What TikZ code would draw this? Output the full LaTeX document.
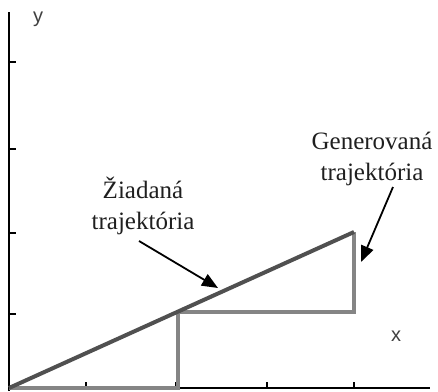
\documentclass[tikz,border=0pt]{standalone}
\usepackage{fontspec}
\setmainfont{Liberation Serif}
\newfontfamily\axfont{Liberation Sans}
\usetikzlibrary{arrows.meta}
\definecolor{desgray}{HTML}{505050}
\definecolor{gengray}{HTML}{858585}
\begin{document}
\begin{tikzpicture}[x=1pt,y=-1pt,
  axisline/.style={line width=2pt,black},
  tickline/.style={line width=1.6pt,black},
  desired/.style={line width=4pt,color=desgray},
  generated/.style={line width=3.5pt,color=gengray,line join=miter},
  ptr/.style={line width=1.8pt,black,-{Triangle[length=16pt,width=13pt]}},
  lbl/.style={font=\fontsize{25}{31}\selectfont,align=center,inner sep=0pt,text=black!88},
  axlbl/.style={font=\axfont\fontsize{20}{22}\selectfont,text=black!75,inner sep=0pt}]
\useasboundingbox (0,0) rectangle (438,391);
% key points
\coordinate (O) at (9,388);
\coordinate (ytop) at (9,12);
\coordinate (ybot) at (9,391);
\coordinate (xend) at (430,388);
\coordinate (A) at (178,388);
\coordinate (B) at (178,312);
\coordinate (C) at (354,312);
\coordinate (D) at (354,232);
% axes
\draw[axisline] (ytop) -- (ybot);
\draw[axisline] (O) -- (xend);
\foreach \yy in {62,149,233,314} \draw[tickline] (9,\yy) -- (16,\yy);
\foreach \xx in {86,176,267,354} \draw[tickline] (\xx,388) -- (\xx,382);
% trajectories
\draw[generated] (O) -- (A) -- (B) -- (C) -- (D);
\draw[desired] (O) -- (D);
% labels
\node[axlbl] (ylab) at (38,19) {y};
\node[axlbl] (xlab) at (396,336) {x};
\node[lbl] (des) at (143,206) {Žiadaná\\trajektória};
\node[lbl] (gen) at (372,159) {Generovaná\\trajektória};
% arrows
\coordinate (s1) at (139,241);
\coordinate (t1) at (218,288);
\coordinate (s2) at (393,187);
\coordinate (t2) at (361,262);
\draw[ptr] (s1) -- (t1);
\draw[ptr] (s2) -- (t2);
\end{tikzpicture}
\end{document}
